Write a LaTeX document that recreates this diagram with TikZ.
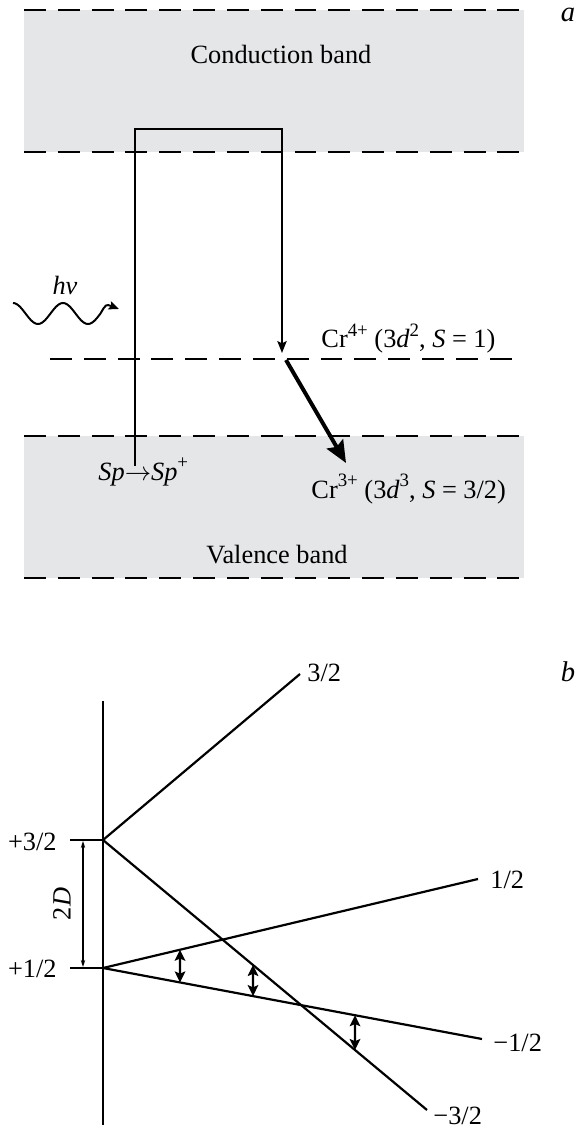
\documentclass[tikz,border=0pt]{standalone}
\usepackage{fontspec}
\setmainfont{Liberation Serif}
\usetikzlibrary{arrows.meta,calc}
\definecolor{bandgray}{RGB}{229,230,232}
\newcommand{\upidx}[1]{\raisebox{0.42em}{\fontsize{8.6}{9}\selectfont #1}}
\tikzset{
    level/.style={line width=1.1pt, dash pattern=on 10pt off 5.4pt},
    lbl/.style={inner sep=0pt, font=\fontsize{12}{14}\selectfont},
    path/.style={line width=0.9pt},
    dbl/.style={line width=1pt, {Stealth[length=5pt,width=4.8pt,inset=1pt]}-{Stealth[length=5pt,width=4.8pt,inset=1pt]}},
}
\begin{document}
\begin{tikzpicture}[x=0.016cm, y=-0.016cm]
    \useasboundingbox (0,0) rectangle (581,1127);
    % panel a: bands and levels
    \fill[bandgray] (24,10) rectangle (524,152);
    \fill[bandgray] (24,436) rectangle (524,578);
    \foreach \y in {10,152,436,578}
        \draw[level] (24,\y) -- (524,\y);
    \draw[level] (50,359) -- (520,359);
    \node[lbl, anchor=base] (cb) at (281,64) {Conduction band};
    \node[lbl, anchor=base] (vb) at (277,563) {Valence band};
    \node[lbl, anchor=base, font=\fontsize{13}{15}\selectfont\itshape] (pa) at (568,22) {a};
    \node[lbl, anchor=base west] (cr4) at (321,348) {Cr\upidx{4+} (3\textit{d}\upidx{2}, \textit{S} = 1)};
    \node[lbl, anchor=base west] (cr3) at (311,498) {Cr\upidx{3+} (3\textit{d}\upidx{3}, \textit{S} = 3/2)};
    \node[lbl, anchor=base west] (sp) at (98,480) {\textit{Sp}$\rightarrow$\textit{Sp}\upidx{+}};
    \node[lbl] (hv) at (65,285) {\textit{hν}};
    % transitions
    \coordinate (spTop) at (135,466);
    \coordinate (cbTop) at (282,129);
    \coordinate (crLevel) at (282,353);
    \coordinate (relax) at (286,360);
    \coordinate (relaxEnd) at (346,463);
    \draw[path, -{Stealth[length=5.4pt,width=4.2pt,inset=1pt]}] (spTop) |- (cbTop) -- (crLevel);
    \draw[line width=1.8pt, -{Stealth[length=10pt,width=8.5pt,inset=1.5pt]}] (relax) -- (relaxEnd);
    \draw[path, -{Stealth[length=4.6pt,width=3.8pt,inset=0.8pt]}]
        plot[domain=0:1.75, samples=50, smooth] ({13+50*\x},{313.5-10.5*cos(360*\x)})
        .. controls (106,304) .. (119,309);
    % panel b: levels against field
    \node[lbl, anchor=base, font=\fontsize{13}{15}\selectfont\itshape] (pb) at (568,681) {b};
    \coordinate (axTop) at (103,701);
    \coordinate (axBot) at (103,1125);
    \coordinate (o32) at (103,840);
    \coordinate (o12) at (103,968);
    \coordinate (t32) at (70,840);
    \coordinate (t12) at (70,968);
    \coordinate (e32) at (300,674);
    \coordinate (e12) at (478,879);
    \coordinate (em12) at (482,1039);
    \coordinate (em32) at (427,1110);
    \draw[line width=1pt] (axTop) -- (axBot);
    \draw[line width=0.7pt] (t32) -- (o32);
    \draw[line width=0.7pt] (t12) -- (o12);
    \draw[line width=0.6pt, {Stealth[length=3.2pt,width=2pt]}-{Stealth[length=3.2pt,width=2pt]}] (83,841) -- (83,967);
    \draw[line width=1pt] (o32) -- (e32);
    \draw[line width=1pt] (o32) -- (em32);
    \draw[line width=1pt] (o12) -- (e12);
    \draw[line width=1pt] (o12) -- (em12);
    \draw[dbl] ($(o12)!0.2053!(e12)$) -- ($(o12)!0.2032!(em12)$);
    \draw[dbl] ($(o32)!0.463!(em32)$) -- ($(o12)!0.3958!(em12)$);
    \draw[dbl] ($(o12)!0.665!(em12)$) -- ($(o32)!0.7778!(em32)$);
    \node[lbl, anchor=east] (l32) at (57,842) {+3/2};
    \node[lbl, anchor=east] (l12) at (57,969) {+1/2};
    \node[lbl, rotate=90] (gap) at (62,904) {2\textit{D}};
    \node[lbl, anchor=west] (r32) at (307,673) {3/2};
    \node[lbl, anchor=west] (r12) at (490,880) {1/2};
    \node[lbl, anchor=west] (rm12) at (493,1043) {−1/2};
    \node[lbl, anchor=west] (rm32) at (433,1116) {−3/2};
\end{tikzpicture}
\end{document}
